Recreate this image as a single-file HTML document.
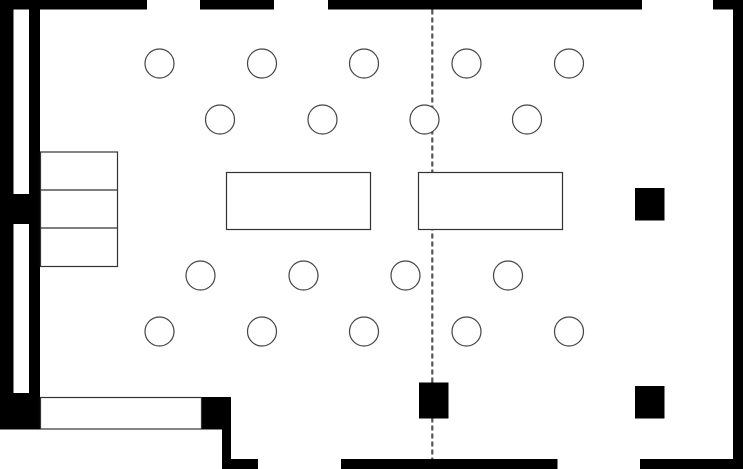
<!DOCTYPE html>
<html><head><meta charset="utf-8"><style>html,body{margin:0;padding:0;background:#fff;}svg{display:block}</style></head>
<body>
<svg width="743" height="469" viewBox="0 0 743 469" xmlns="http://www.w3.org/2000/svg">
<rect width="743" height="469" fill="#fff"/>
<!-- dashed line -->
<line x1="432.3" y1="9.5" x2="432.3" y2="459" stroke="#555" stroke-width="2.2" stroke-dasharray="5,3"/>
<g fill="#000">
<rect x="0" y="0" width="147" height="9.5"/>
<rect x="200" y="0" width="74" height="9.5"/>
<rect x="328" y="0" width="314" height="9.5"/>
<rect x="713" y="0" width="30" height="9.5"/>
<rect x="733" y="0" width="10" height="469"/>
<rect x="0" y="0" width="40" height="429.5"/>
<rect x="201" y="397" width="30" height="32.5"/>
<rect x="222" y="397" width="9" height="72"/>
<rect x="222" y="459" width="36" height="10"/>
<rect x="341" y="459" width="216.5" height="10"/>
<rect x="640" y="459" width="103" height="10"/>
<rect x="635" y="188" width="29.5" height="32.5"/>
<rect x="635" y="386" width="29.5" height="32.5"/>
<rect x="419" y="382.5" width="29.5" height="36"/>
</g>
<rect x="13.5" y="9.5" width="15.5" height="184.5" fill="#fff"/>
<rect x="13.5" y="224" width="15.5" height="169" fill="#fff"/>
<g fill="none" stroke="#333" stroke-width="1.2">
<rect x="40.5" y="152" width="77" height="114.5"/>
<line x1="40.5" y1="190" x2="117.5" y2="190"/>
<line x1="40.5" y1="228" x2="117.5" y2="228"/>
<rect x="40.5" y="397.5" width="161" height="31.5"/>
<rect x="226.5" y="172.5" width="144" height="57" fill="#fff"/>
<rect x="418.5" y="172.5" width="144" height="57" fill="#fff"/>
</g>
<g fill="#fff" stroke="#444" stroke-width="1.2">
<circle cx="159.5" cy="63.5" r="14.5"/><circle cx="262" cy="63.5" r="14.5"/><circle cx="364" cy="63.5" r="14.5"/><circle cx="466.5" cy="63.5" r="14.5"/><circle cx="569" cy="63.5" r="14.5"/>
<circle cx="220" cy="119.5" r="14.5"/><circle cx="322.5" cy="119.5" r="14.5"/><circle cx="424.5" cy="119.5" r="14.5"/><circle cx="527" cy="119.5" r="14.5"/>
<circle cx="200.5" cy="275.5" r="14.5"/><circle cx="303.5" cy="275.5" r="14.5"/><circle cx="405.5" cy="275.5" r="14.5"/><circle cx="508" cy="275.5" r="14.5"/>
<circle cx="159.5" cy="331.5" r="14.5"/><circle cx="262" cy="331.5" r="14.5"/><circle cx="364" cy="331.5" r="14.5"/><circle cx="466.5" cy="331.5" r="14.5"/><circle cx="569" cy="331.5" r="14.5"/>
</g>
</svg>
</body></html>
